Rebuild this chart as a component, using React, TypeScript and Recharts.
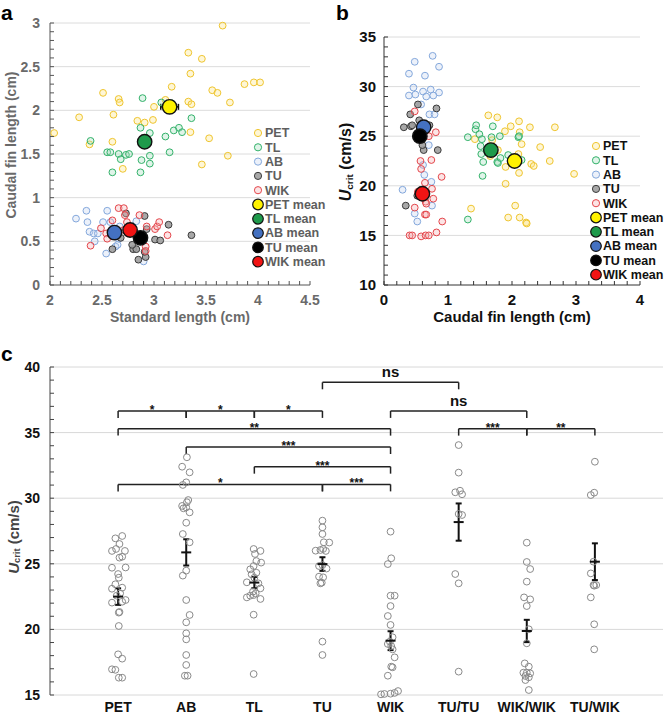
import React from 'react';
import { ScatterChart, Scatter, XAxis, YAxis, ReferenceLine, ErrorBar } from 'recharts';

const FONT = '"Liberation Sans", Arial, Helvetica, sans-serif';

// ---------- panels a & b: groups ----------
const groupNames = ['PET', 'TL', 'AB', 'TU', 'WIK'];
const groupStroke = ['#efc52f', '#33b26a', '#84a8dc', '#3a3a3a', '#e4464b'];
const groupFill = ['#fbe68a', '#a7dfbf', '#c9d8f0', '#9e9e9e', '#f6b3b4'];
const groupFillOpacity = [0.35, 0.35, 0.35, 0.9, 0.35];
const meanFill = ['#fff200', '#1e9a4b', '#4471c1', '#000000', '#f21414'];

// a: standard length (cm) vs caudal fin length (cm)
const petA = [[2.04, 1.74], [2.28, 1.92], [2.38, 1.61], [2.51, 2.2], [2.61, 1.95], [2.6, 1.64], [2.66, 2.13], [2.67, 2.09], [2.7, 1.33], [2.84, 1.88], [2.91, 1.86], [2.99, 1.89], [3.0, 2.04], [3.11, 2.12], [3.17, 2.27], [3.33, 2.66], [3.35, 2.42], [3.33, 2.1], [3.36, 2.07], [3.35, 1.75], [3.46, 2.59], [3.46, 1.38], [3.53, 1.68], [3.56, 2.23], [3.61, 2.2], [3.66, 2.97], [3.71, 1.48], [3.73, 2.09], [3.87, 2.3], [3.96, 2.32], [4.02, 2.32]];
const tlA = [[2.39, 1.65], [2.55, 1.52], [2.58, 1.52], [2.6, 1.29], [2.66, 1.5], [2.68, 1.44], [2.73, 1.49], [2.76, 1.5], [2.89, 2.14], [2.87, 1.8], [2.88, 1.43], [2.87, 1.29], [2.96, 1.74], [2.96, 1.48], [2.96, 1.39], [3.07, 2.09], [3.11, 1.7], [3.15, 1.52], [3.19, 1.77], [3.24, 1.8], [3.27, 1.75], [3.36, 1.91], [3.17, 2.08]];
const abA = [[2.25, 0.76], [2.35, 0.85], [2.36, 0.72], [2.38, 0.61], [2.42, 0.59], [2.46, 0.59], [2.43, 0.5], [2.51, 0.72], [2.55, 0.85], [2.58, 0.72], [2.54, 0.36], [2.63, 0.44], [2.65, 0.46], [2.67, 0.67], [2.66, 0.53], [2.83, 0.73], [2.9, 0.27], [2.61, 0.59]];
const tuA = [[2.73, 0.82], [2.91, 0.79], [2.93, 0.64], [3.14, 0.69], [3.36, 0.57], [3.01, 0.52], [3.06, 0.51], [2.6, 0.41], [2.68, 0.54], [2.8, 0.41], [2.83, 0.41], [2.85, 0.29], [2.92, 0.32], [2.91, 0.38], [2.79, 0.46]];
const wikA = [[2.39, 0.45], [2.49, 0.65], [2.54, 0.59], [2.55, 0.53], [2.6, 0.74], [2.66, 0.88], [2.71, 0.88], [2.72, 0.8], [2.74, 0.72], [2.71, 0.63], [2.75, 0.59], [2.86, 0.8], [2.92, 0.44], [2.92, 0.39], [2.93, 0.67], [3.01, 0.64], [3.03, 0.67], [3.05, 0.72], [3.13, 0.57]];
const meanA = [[3.15, 2.04], [2.91, 1.64], [2.62, 0.6], [2.87, 0.54], [2.77, 0.63]];
const meanAErrX = [0.085, 0, 0, 0, 0];

// b: caudal fin length (cm) vs Ucrit (cm/s)
const petB = [[1.63, 27.1], [1.77, 26.9], [1.98, 26.0], [2.11, 26.5], [2.28, 25.9], [2.67, 25.9], [1.42, 24.7], [1.69, 24.6], [1.89, 25.5], [2.12, 25.4], [2.15, 24.2], [2.44, 23.9], [1.66, 23.0], [1.78, 23.6], [1.9, 21.9], [2.1, 23.2], [2.3, 22.2], [2.34, 22.0], [2.59, 22.5], [2.97, 21.2], [2.11, 21.3], [1.9, 20.2], [1.36, 17.7], [2.05, 18.0], [1.94, 16.8], [2.12, 16.8], [2.22, 16.3], [2.23, 16.2]];
const tlB = [[1.31, 24.9], [1.43, 25.7], [1.44, 26.1], [1.49, 25.2], [1.53, 24.7], [1.51, 24.0], [1.52, 23.2], [1.55, 22.4], [1.54, 21.0], [1.7, 26.0], [1.68, 24.9], [1.77, 22.4], [1.78, 22.3], [1.81, 25.0], [1.82, 22.8], [1.94, 23.1], [2.1, 24.9], [2.11, 25.0], [2.15, 22.6], [1.31, 16.6]];
const abB = [[0.39, 31.3], [0.48, 32.5], [0.46, 29.9], [0.39, 29.1], [0.49, 29.2], [0.64, 31.1], [0.61, 29.5], [0.66, 29.0], [0.73, 29.7], [0.76, 33.1], [0.86, 32.0], [0.86, 29.4], [0.77, 29.1], [0.71, 27.2], [0.79, 27.2], [0.58, 28.2], [0.7, 24.1], [0.61, 22.1], [0.63, 21.1], [0.74, 20.4], [0.29, 19.6], [0.75, 18.0], [0.48, 17.2], [0.52, 16.4]];
const tuB = [[0.31, 25.9], [0.42, 26.0], [0.44, 26.1], [0.41, 27.2], [0.53, 28.2], [0.55, 26.6], [0.57, 25.9], [0.71, 26.1], [0.82, 27.8], [0.84, 23.6], [0.62, 23.6], [0.6, 24.1], [0.52, 19.0], [0.34, 18.0]];
const wikB = [[0.48, 27.5], [0.81, 25.4], [0.7, 25.0], [0.57, 22.5], [0.58, 21.7], [0.74, 22.6], [0.9, 20.9], [0.64, 20.3], [0.75, 19.7], [0.53, 19.4], [0.77, 18.7], [0.65, 18.4], [0.66, 18.2], [0.48, 17.8], [0.64, 17.1], [0.66, 17.1], [0.91, 16.4], [0.4, 15.0], [0.44, 15.0], [0.58, 14.9], [0.65, 15.0], [0.7, 15.0], [0.82, 15.3]];
const meanB = [[2.04, 22.5], [1.67, 23.6], [0.62, 25.9], [0.56, 25.0], [0.6, 19.2]];

const aTickLabelsX = [2, 2.5, 3, 3.5, 4, 4.5];
const aTickLabelsY = [0, 0.5, 1, 1.5, 2, 2.5, 3];
const bTickLabelsX = [0, 1, 2, 3, 4];
const bTickLabelsY = [10, 15, 20, 25, 30, 35];

// ---------- panel c: Ucrit by line ----------
const cGroups = ['PET', 'AB', 'TL', 'TU', 'WIK', 'TU/TU', 'WIK/WIK', 'TU/WIK'];
const cPET = [27.12, 26.94, 26.51, 26.13, 25.98, 25.98, 25.47, 25.54, 24.7, 24.72, 24.22, 23.94, 23.44, 23.18, 23.1, 22.75, 22.57, 22.04, 22.11, 22.24, 21.28, 21.33, 20.26, 18.1, 17.77, 16.96, 16.92, 16.32, 16.32];
const jPET = [0.06, -0.04, 0.02, -0.03, -0.09, 0.1, 0.02, 0.06, -0.09, 0.11, 0, 0.01, -0.04, 0.06, -0.09, 0.03, -0.02, -0.09, 0.06, 0.11, 0.01, 0.02, 0.01, 0, 0.06, -0.09, -0.04, 0.01, 0.06];
const cAB = [33.12, 32.4, 31.97, 31.21, 31.01, 29.86, 29.69, 29.41, 29.3, 29.23, 28.92, 28.13, 27.27, 26.64, 24.48, 24.1, 22.24, 21.1, 20.54, 19.7, 19.24, 18.05, 17.29, 16.47, 16.47];
const jAB = [0.01, -0.06, 0.05, 0, -0.05, 0.03, 0.01, -0.06, 0, -0.04, 0.05, 0, -0.05, 0.05, 0, -0.05, 0, 0.05, 0, 0, 0, 0, 0, -0.02, 0.02];
const cTL = [26.13, 25.98, 25.75, 25.21, 25.09, 24.83, 24.58, 24.32, 24.2, 23.94, 23.59, 23.51, 23.13, 22.88, 22.75, 22.57, 22.44, 22.62, 22.32, 21.12, 16.6];
const jTL = [-0.01, 0.09, 0.01, 0.03, 0.1, -0.01, -0.06, 0.03, -0.04, 0, -0.11, 0.06, 0.09, -0.02, 0.02, -0.06, -0.11, -0.01, 0.09, -0.01, -0.01];
const cTU = [28.29, 27.78, 27.27, 26.64, 26.62, 26.0, 26.05, 26.13, 25.98, 24.83, 24.9, 24.64, 24.02, 23.97, 23.56, 23.51, 19.07, 18.05];
const jTU = [0, 0, 0, 0.02, 0.1, -0.1, -0.03, 0.01, 0.05, -0.05, 0, 0.06, -0.05, 0.01, -0.01, -0.03, 0, 0];
const cWIK = [27.45, 25.42, 24.98, 22.57, 22.57, 21.78, 21.02, 20.34, 19.4, 19.07, 18.89, 18.73, 18.48, 17.87, 17.16, 17.11, 16.47, 15.05, 15.08, 15.1, 15.16, 15.3];
const jWIK = [0, 0.01, -0.04, 0, 0.06, 0, -0.04, 0, 0.03, -0.01, -0.04, 0.01, 0.03, 0.06, 0.01, 0.03, -0.04, -0.14, -0.09, 0, 0.06, 0.11];
const cTUTU = [34.05, 31.95, 30.45, 30.57, 30.3, 28.72, 28.8, 24.22, 23.51, 16.78];
const jTUTU = [0, 0, -0.05, 0.02, 0.05, 0.05, 0, -0.05, 0, 0];
const cWIKWIK = [26.61, 25.14, 24.6, 23.64, 22.44, 22.29, 21.78, 20.01, 18.94, 17.41, 17.16, 16.7, 16.7, 16.65, 16.45, 16.35, 16.14, 15.38];
const jWIKWIK = [0, 0, 0.05, 0, -0.04, 0.05, 0, 0.03, 0, -0.03, 0.03, -0.05, 0, 0.05, -0.02, 0.03, -0.02, 0.03];
const cTUWIK = [32.78, 30.24, 30.42, 25.16, 24.27, 23.38, 23.38, 23.33, 22.44, 20.39, 18.48];
const jTUWIK = [0, -0.06, -0.01, -0.02, -0.06, -0.02, 0.02, -0.01, -0.06, -0.01, -0.01];
const cMean = [22.5, 25.87, 23.57, 24.98, 19.14, 28.18, 19.88, 25.16];
const cSem = [0.63, 1.0, 0.43, 0.52, 0.72, 1.42, 0.85, 1.4];
const cTickLabelsY = [15, 20, 25, 30, 35, 40];

const cBrackets = [
  { from: 'PET', to: 'AB', y: 36.65, mark: '*' },
  { from: 'AB', to: 'TL', y: 36.65, mark: '*' },
  { from: 'TL', to: 'TU', y: 36.65, mark: '*' },
  { from: 'PET', to: 'WIK', y: 35.3, mark: '**' },
  { from: 'AB', to: 'WIK', y: 33.9, mark: '***' },
  { from: 'TL', to: 'WIK', y: 32.4, mark: '***' },
  { from: 'PET', to: 'TU', y: 31.05, mark: '*' },
  { from: 'TU', to: 'WIK', y: 31.05, mark: '***' },
  { from: 'TU', to: 'TU/TU', y: 38.83, mark: 'ns' },
  { from: 'WIK', to: 'WIK/WIK', y: 36.65, mark: 'ns' },
  { from: 'TU/TU', to: 'WIK/WIK', y: 35.3, mark: '***' },
  { from: 'WIK/WIK', to: 'TU/WIK', y: 35.3, mark: '**' },
];
const BRACKET_DROP = 0.53;

// ---------- helpers ----------
const steps = (from: number, to: number, step: number) => {
  const out: number[] = [];
  const n = Math.round((to - from) / step);
  for (let i = 0; i <= n; i++) out.push(Math.round((from + i * step) * 1000) / 1000);
  return out;
};
const isLabel = (labels: number[], v: number) => labels.some(l => Math.abs(l - v) < 1e-6);
const toPts = (arr: number[][]) => arr.map(([x, y]) => ({ x, y }));

const yTick = (labels: number[], color: string, size: number, gap: number, axisColor: string) => (p: any) => {
  const v = p.payload.value;
  return (
    <g>
      <line x1={p.x} x2={p.x + 4} y1={p.y} y2={p.y} stroke={axisColor} strokeWidth={1} />
      {isLabel(labels, v) && (
        <text x={p.x - gap} y={p.y} dy="0.35em" textAnchor="end" fill={color} fontFamily={FONT} fontWeight="bold" fontSize={size}>
          {String(v)}
        </text>
      )}
    </g>
  );
};

const xTick = (labels: number[], color: string, size: number, gap: number, axisColor: string) => (p: any) => {
  const v = p.payload.value;
  return (
    <g>
      <line x1={p.x} x2={p.x} y1={p.y} y2={p.y - 4} stroke={axisColor} strokeWidth={1} />
      {isLabel(labels, v) && (
        <text x={p.x} y={p.y + gap} dy="0.35em" textAnchor="middle" fill={color} fontFamily={FONT} fontWeight="bold" fontSize={size}>
          {String(v)}
        </text>
      )}
    </g>
  );
};

const ring = (stroke: string, fill: string, op: number, r = 3.4) => (p: any) => (
  <circle cx={p.cx} cy={p.cy} r={r} stroke={stroke} strokeWidth={1} fill={fill} fillOpacity={op} />
);
const dot = (fill: string, r = 7.2) => (p: any) => (
  <circle cx={p.cx} cy={p.cy} r={r} stroke="#111" strokeWidth={1.4} fill={fill} />
);

const UcritTitle = ({ x, y, size, color }: { x: number; y: number; size: number; color: string }) => (
  <text transform={`translate(${x},${y}) rotate(-90)`} textAnchor="middle" dominantBaseline="central" fontFamily={FONT} fontWeight="bold" fontSize={size} fill={color}>
    <tspan fontStyle="italic">U</tspan>
    <tspan fontSize={size * 0.62} dy={size * 0.28}>crit</tspan>
    <tspan dy={-size * 0.28}> (cm/s)</tspan>
  </text>
);

const PanelA = () => {
  const sets = [petA, tlA, abA, tuA, wikA];
  return (
    <ScatterChart width={335} height={330} margin={{ top: 23, right: 25, bottom: 0, left: 0 }}>
      <XAxis type="number" dataKey="x" domain={[2, 4.5]} ticks={steps(2, 4.5, 0.1)} interval={0} tickSize={0} tickMargin={0}
        height={45} axisLine={{ stroke: '#555' }} tick={xTick(aTickLabelsX, '#6a6a6a', 14, 15, '#555')}
        label={(p: any) => (
          <text x={p.viewBox.x + p.viewBox.width / 2} y={p.viewBox.y + 32} dy="0.35em" textAnchor="middle" fontFamily={FONT} fontWeight="bold" fontSize={14} fill="#6a6a6a">
            Standard length (cm)
          </text>
        )} />
      <YAxis type="number" dataKey="y" domain={[0, 3]} ticks={steps(0, 3, 0.1)} interval={0} tickSize={0} tickMargin={0}
        width={50} axisLine={{ stroke: '#555' }} tick={yTick(aTickLabelsY, '#6a6a6a', 14, 10, '#555')}
        label={(p: any) => (
          <text transform={`translate(11,${p.viewBox.y + p.viewBox.height / 2 - 9}) rotate(-90)`} textAnchor="middle" dominantBaseline="central" fontFamily={FONT} fontWeight="bold" fontSize={14} fill="#6a6a6a">
            Caudal fin length (cm)
          </text>
        )} />
      {aTickLabelsY.slice(1).map(v => (
        <ReferenceLine key={v} y={v} stroke="#dcdcdc" strokeWidth={1} ifOverflow="visible" />
      ))}
      {sets.map((s, i) => (
        <Scatter key={groupNames[i]} name={groupNames[i]} data={toPts(s)} isAnimationActive={false}
          shape={ring(groupStroke[i], groupFill[i], groupFillOpacity[i])} />
      ))}
      {meanA.map((m, i) => (
        <Scatter key={groupNames[i] + ' mean'} name={groupNames[i] + ' mean'} data={[{ x: m[0], y: m[1], ex: meanAErrX[i] }]}
          isAnimationActive={false} shape={dot(meanFill[i])}>
          <ErrorBar dataKey="ex" direction="x" width={3} stroke="#111" strokeWidth={1.5} />
        </Scatter>
      ))}
    </ScatterChart>
  );
};

const PanelB = () => {
  const sets = [petB, tlB, abB, tuB, wikB];
  return (
    <ScatterChart width={341} height={330} margin={{ top: 37, right: 31, bottom: 0, left: 0 }}>
      <XAxis type="number" dataKey="x" domain={[0, 4]} ticks={steps(0, 4, 0.2)} interval={0} tickSize={0} tickMargin={0}
        height={45} axisLine={{ stroke: '#333' }} tick={xTick(bTickLabelsX, '#111', 15, 15, '#333')}
        label={(p: any) => (
          <text x={p.viewBox.x + p.viewBox.width / 2} y={p.viewBox.y + 32} dy="0.35em" textAnchor="middle" fontFamily={FONT} fontWeight="bold" fontSize={15} fill="#111">
            Caudal fin length (cm)
          </text>
        )} />
      <YAxis type="number" dataKey="y" domain={[10, 35]} ticks={steps(10, 35, 1)} interval={0} tickSize={0} tickMargin={0}
        width={54} axisLine={{ stroke: '#333' }} tick={yTick(bTickLabelsY, '#111', 15, 8, '#333')}
        label={(p: any) => <UcritTitle x={15} y={p.viewBox.y + p.viewBox.height / 2 + 1} size={16} color="#111" />} />
      {bTickLabelsY.slice(1).map(v => (
        <ReferenceLine key={v} y={v} stroke="#dcdcdc" strokeWidth={1} ifOverflow="visible" />
      ))}
      {sets.map((s, i) => (
        <Scatter key={groupNames[i]} name={groupNames[i]} data={toPts(s)} isAnimationActive={false}
          shape={ring(groupStroke[i], groupFill[i], groupFillOpacity[i])} />
      ))}
      {meanB.map((m, i) => (
        <Scatter key={groupNames[i] + ' mean'} name={groupNames[i] + ' mean'} data={[{ x: m[0], y: m[1] }]}
          isAnimationActive={false} shape={dot(meanFill[i])} />
      ))}
    </ScatterChart>
  );
};

const PanelC = () => {
  const vals = [cPET, cAB, cTL, cTU, cWIK, cTUTU, cWIKWIK, cTUWIK];
  const jit = [jPET, jAB, jTL, jTU, jWIK, jTUTU, jWIKWIK, jTUWIK];
  const pos = (g: string) => cGroups.indexOf(g) + 1;
  const means = cGroups.map((g, i) => ({ x: i + 1, y: cMean[i], e: cSem[i] }));
  const markLabel = (mark: string) => (p: any) => {
    const vb = p.viewBox;
    const ns = mark === 'ns';
    return (
      <text x={vb.x + vb.width / 2} y={vb.y + (ns ? -5 : 3)} textAnchor="middle" fontFamily={FONT} fontWeight="bold"
        fontSize={ns ? 15 : 12} fill="#111">
        {mark}
      </text>
    );
  };
  const line = { stroke: '#222', strokeWidth: 1.5, ifOverflow: 'visible' as const };
  return (
    <ScatterChart width={671} height={375} margin={{ top: 27, right: 8, bottom: 0, left: 0 }}>
      <XAxis type="number" dataKey="x" domain={[0, 9]} ticks={cGroups.map((g, i) => i + 1)} interval={0} tickSize={0} tickMargin={0}
        height={20} axisLine={false}
        tick={(p: any) => (
          <text x={p.x} y={p.y + 12} dy="0.35em" textAnchor="middle" fontFamily={FONT} fontWeight="bold" fontSize={14} fill="#111">
            {cGroups[p.payload.value - 1]}
          </text>
        )} />
      <YAxis type="number" dataKey="y" domain={[15, 40]} ticks={steps(15, 40, 1)} interval={0} tickSize={0} tickMargin={0}
        width={50} axisLine={{ stroke: '#444' }} tick={yTick(cTickLabelsY, '#111', 14, 10, '#444')}
        label={(p: any) => <UcritTitle x={13} y={p.viewBox.y + p.viewBox.height / 2 + 6} size={15} color="#444" />} />
      {cTickLabelsY.map(v => (
        <ReferenceLine key={v} y={v} stroke="#d8d8d8" strokeWidth={1} ifOverflow="visible" />
      ))}
      {vals.map((vs, i) => (
        <Scatter key={cGroups[i]} name={cGroups[i]} isAnimationActive={false}
          data={vs.map((v, k) => ({ x: i + 1 + jit[i][k], y: v }))}
          shape={ring('#8a8a8a', '#ffffff', 0, 3.4)} />
      ))}
      <Scatter name="mean" data={means} isAnimationActive={false}
        shape={(p: any) => <line x1={p.cx - 5} x2={p.cx + 5} y1={p.cy} y2={p.cy} stroke="#111" strokeWidth={2} />}>
        <ErrorBar dataKey="e" direction="y" width={3} stroke="#111" strokeWidth={2} />
      </Scatter>
      {cBrackets.map((b, i) => {
        const x1 = pos(b.from);
        const x2 = pos(b.to);
        return [
          <ReferenceLine key={'h' + i} segment={[{ x: x1, y: b.y }, { x: x2, y: b.y }]} {...line} label={markLabel(b.mark)} />,
          <ReferenceLine key={'l' + i} segment={[{ x: x1, y: b.y }, { x: x1, y: b.y - BRACKET_DROP }]} {...line} />,
          <ReferenceLine key={'r' + i} segment={[{ x: x2, y: b.y }, { x: x2, y: b.y - BRACKET_DROP }]} {...line} />,
        ];
      })}
    </ScatterChart>
  );
};

const LegendBlock = ({ x, y, color }: { x: number; y: number; color: string }) => {
  const step = 14.3;
  const items = [
    ...groupNames.map((g, i) => ({ label: g, mean: false, i })),
    ...groupNames.map((g, i) => ({ label: g + ' mean', mean: true, i })),
  ];
  return (
    <g>
      {items.map((it, k) => (
        <g key={it.label}>
          {it.mean ? (
            <circle cx={x} cy={y + k * step} r={5.3} fill={meanFill[it.i]} stroke="#111" strokeWidth={1.2} />
          ) : (
            <circle cx={x} cy={y + k * step} r={3.6} fill={groupFill[it.i]} fillOpacity={groupFillOpacity[it.i]} stroke={groupStroke[it.i]} strokeWidth={1} />
          )}
          <text x={x + 7} y={y + k * step} dy="0.35em" fontFamily={FONT} fontWeight="bold" fontSize={12.5} fill={color}>
            {it.label}
          </text>
        </g>
      ))}
    </g>
  );
};

export default function App() {
  return (
    <div style={{ position: 'relative', width: 671, height: 715, background: '#fff', overflow: 'hidden' }}>
      <style>{'body{margin:0}'}</style>
      <div style={{ position: 'absolute', left: 0, top: 0 }}><PanelA /></div>
      <div style={{ position: 'absolute', left: 330, top: 0 }}><PanelB /></div>
      <div style={{ position: 'absolute', left: 0, top: 340 }}><PanelC /></div>
      <svg width={671} height={715} style={{ position: 'absolute', left: 0, top: 0, pointerEvents: 'none' }}>
        <text x={1} y={20} fontFamily={FONT} fontWeight="bold" fontSize={21} fill="#000">a</text>
        <text x={336} y={20} fontFamily={FONT} fontWeight="bold" fontSize={21} fill="#000">b</text>
        <text x={1} y={361} fontFamily={FONT} fontWeight="bold" fontSize={21} fill="#000">c</text>
        <LegendBlock x={258} y={133} color="#5e5e5e" />
        <LegendBlock x={596} y={146} color="#111" />
      </svg>
    </div>
  );
}
